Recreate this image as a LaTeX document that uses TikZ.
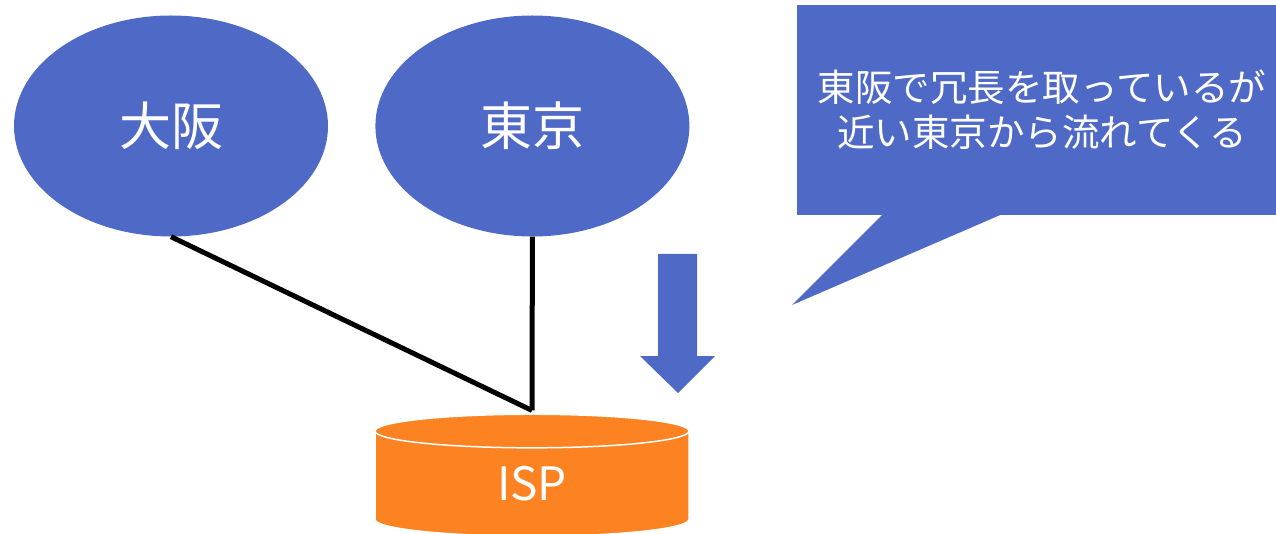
\documentclass[tikz,border=0pt]{standalone}
\usepackage{fontspec}
\setmainfont{Noto Sans CJK JP}
\usetikzlibrary{positioning, shapes.geometric}
\definecolor{siteblue}{RGB}{79,105,198}
\definecolor{isporange}{RGB}{253,130,34}

\begin{document}
\begin{tikzpicture}[x=1pt, y=-1pt, node distance=47pt,
    site/.style={ellipse, fill=siteblue, text=white, inner sep=0pt,
      minimum width=314pt, minimum height=221pt, font=\fontsize{52}{60}\selectfont},
    isp/.style={cylinder, shape border rotate=90, aspect=0.48, fill=isporange,
      draw=white, line width=1.5pt, minimum width=314pt, minimum height=122pt,
      text=white, inner sep=0pt, font=\fontsize{46}{54}\selectfont},
    link/.style={line width=5pt},
    callbox/.style={rectangle, fill=siteblue, text=white, align=center,
      minimum width=490pt, minimum height=210pt, inner sep=0pt,
      font=\fontsize{34}{45}\selectfont}]
  \useasboundingbox (0,0) rectangle (1276,534);
  \node[site] (osaka) at (171,126) {大阪};
  \node[site, right=of osaka] (tokyo) {東京};
  \node[isp] (provider) at (532,484) {ISP};
  \draw[link] (osaka.south) -- ([yshift=3pt]provider.north);
  \draw[link] (tokyo.south) -- ([yshift=3pt]provider.north);
  % arrow down to the ISP
  \fill[siteblue] (658,254) -- (697,254) -- (697,356) -- (715,356) -- (678,393)
    -- (640,356) -- (658,356) -- cycle;
  % speech bubble
  \coordinate (tip) at (792,305);
  \node[callbox] (msg) at (1042,110) {};
  \fill[siteblue] ([xshift=85pt]msg.south west) -- (tip) -- ([xshift=203pt]msg.south west) -- cycle;
  \node[text=white, align=center, font=\fontsize{37.5}{45}\selectfont] (note) at (1042,110)
    {東阪で冗長を取っているが\\近い東京から流れてくる};
\end{tikzpicture}
\end{document}
